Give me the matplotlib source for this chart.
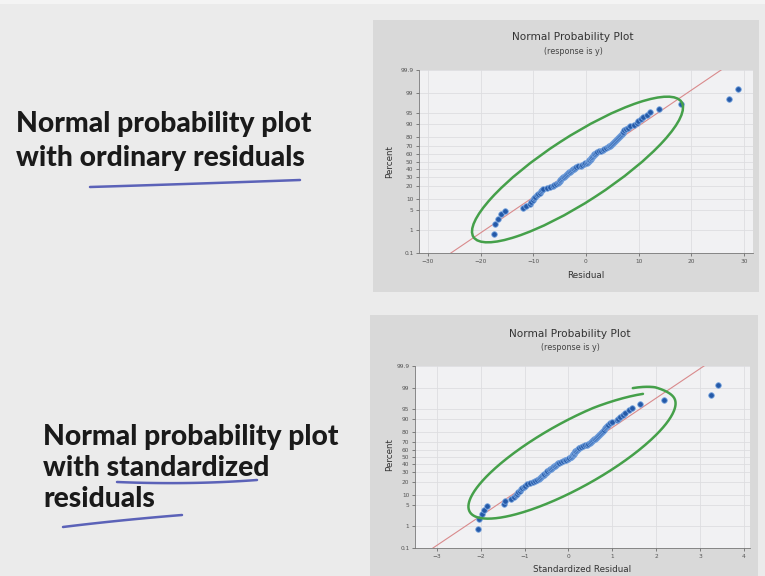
from statistics import NormalDist
import numpy as np
import matplotlib
matplotlib.use("Agg")
import matplotlib.pyplot as plt
from matplotlib.patches import Rectangle, Ellipse

# residuals (sorted) from the regression of y
ordinary = [
    -17.5, -17.2, -16.7, -16.1, -15.4, -11.9, -11.4, -10.7, -10.4, -10.0,
    -9.8, -9.6, -9.3, -9.1, -8.8, -8.6, -8.4, -8.1, -7.4, -6.9,
    -6.3, -6.0, -5.6, -5.4, -5.2, -5.0, -4.9, -4.75, -4.6, -4.4,
    -4.2, -4.0, -3.8, -3.6, -3.4, -3.2, -3.0, -2.8, -2.6, -2.4,
    -2.2, -2.05, -1.9, -1.5, -1.0, -0.7, -0.4, -0.1, 0.2, 0.4,
    0.5, 0.65, 0.8, 0.9, 1.0, 1.1, 1.2, 1.3, 1.45, 1.6,
    1.75, 1.9, 2.1, 2.4, 2.8, 3.2, 3.5, 3.8, 4.1, 4.3,
    4.5, 4.7, 4.9, 5.1, 5.3, 5.5, 5.7, 5.9, 6.1, 6.3,
    6.5, 6.65, 6.8, 6.95, 7.1, 7.3, 7.6, 7.9, 8.3, 9.2,
    9.6, 9.9, 10.4, 10.9, 11.6, 12.1, 13.9, 18.0, 27.1, 28.8,
]
standardized = [
    -2.07, -2.03, -1.98, -1.93, -1.85, -1.48, -1.44, -1.30, -1.25, -1.20,
    -1.17, -1.14, -1.11, -1.08, -1.05, -1.02, -0.99, -0.95, -0.88, -0.82,
    -0.76, -0.72, -0.67, -0.64, -0.62, -0.60, -0.58, -0.565, -0.55, -0.52,
    -0.50, -0.48, -0.45, -0.43, -0.40, -0.38, -0.36, -0.33, -0.31, -0.29,
    -0.26, -0.24, -0.22, -0.18, -0.12, -0.08, -0.05, -0.01, 0.02, 0.05,
    0.06, 0.08, 0.10, 0.11, 0.12, 0.13, 0.14, 0.16, 0.17, 0.19,
    0.21, 0.23, 0.25, 0.29, 0.33, 0.38, 0.42, 0.45, 0.49, 0.51,
    0.54, 0.56, 0.58, 0.61, 0.63, 0.65, 0.68, 0.70, 0.72, 0.75,
    0.77, 0.79, 0.81, 0.83, 0.85, 0.87, 0.91, 0.94, 0.99, 1.10,
    1.14, 1.18, 1.24, 1.30, 1.38, 1.44, 1.63, 2.17, 3.26, 3.42,
]

# reference line (mean, sd) for each plot
ordinary_fit = (0.0, 8.3)
standardized_fit = (0.0, 1.0)

pct_ticks = [0.1, 1, 5, 10, 20, 30, 40, 50, 60, 70, 80, 90, 95, 99, 99.9]
pct_labels = ["0.1", "1", "5", "10", "20", "30", "40", "50", "60", "70",
              "80", "90", "95", "99", "99.9"]
ordinary_xticks = [-30, -20, -10, 0, 10, 20, 30]
standardized_xticks = [-3, -2, -1, 0, 1, 2, 3, 4]

nd = NormalDist()
W, H = 765, 576

fig = plt.figure(figsize=(W / 100, H / 100), dpi=100)
fig.patch.set_facecolor("#ebebeb")

bg = fig.add_axes([0, 0, 1, 1], zorder=0)
bg.set_xlim(0, W)
bg.set_ylim(H, 0)
bg.axis("off")
bg.add_patch(Rectangle((0, 0), W, 4, color="#f4f4f4", lw=0))
bg.add_patch(Rectangle((373, 20), 386, 272, color="#d9d9d9", lw=0))
bg.add_patch(Rectangle((370, 315), 388, 261, color="#d9d9d9", lw=0))

bold = dict(family=["Lato", "DejaVu Sans"], weight="black", fontsize=20.3, color="#1a1a1a")
bg.text(16, 132, "Normal probability plot", va="baseline", **bold)
bg.text(16, 166, "with ordinary residuals", va="baseline", **bold)
bg.text(43, 445, "Normal probability plot", va="baseline", **bold)
bg.text(43, 476, "with standardized", va="baseline", **bold)
bg.text(43, 507, "residuals", va="baseline", **bold)


def px_box(x0, y0, x1, y1):
    return [x0 / W, 1 - y1 / H, (x1 - x0) / W, (y1 - y0) / H]


def prob_plot(box, values, fit, xticks, xlim, xlabel, title_xy, label_y):
    ax = fig.add_axes(px_box(*box), zorder=1)
    ax.set_facecolor("#f1f1f3")
    n = len(values)
    ranks = np.arange(1, n + 1)
    z = [nd.inv_cdf((r - 0.3) / (n + 0.4)) for r in ranks]
    zlim = nd.inv_cdf(0.999)

    mu, sd = fit
    ax.plot([mu - sd * zlim, mu + sd * zlim], [-zlim, zlim], color="#d98a8c", lw=0.8, zorder=2)
    ax.scatter(values, z, s=16, color="#2459a8", edgecolors="#7aa6e0", linewidths=0.6, zorder=3)

    ax.set_xlim(*xlim)
    ax.set_ylim(-zlim, zlim)
    ax.set_yticks([nd.inv_cdf(p / 100) for p in pct_ticks])
    ax.set_yticklabels(pct_labels)
    ax.set_xticks(xticks)
    ax.grid(True, color="#dddde0", lw=0.6)
    ax.tick_params(labelsize=4.2, length=2, width=0.5, colors="#555555", pad=2)
    for s in ["top", "right"]:
        ax.spines[s].set_visible(False)
    for s in ["left", "bottom"]:
        ax.spines[s].set_color("#777777")
        ax.spines[s].set_linewidth(0.6)

    tx, ty = title_xy
    bg.text(tx, ty, "Normal Probability Plot", ha="center", va="center",
            fontsize=7.6, color="#333333")
    bg.text(tx, ty + 14, "(response is y)", ha="center", va="center", fontsize=5.8, color="#444444")
    bg.text((box[0] + box[2]) / 2, box[3] + 22, xlabel, ha="center", va="center", fontsize=6.3, color="#333333")
    bg.text(390, label_y, "Percent", ha="center", va="center", rotation=90, fontsize=6.3, color="#333333")
    return ax


prob_plot((419, 70, 753, 253), ordinary, ordinary_fit, ordinary_xticks,
          (-31.7, 31.7), "Residual", (573, 37), 162)
prob_plot((415, 366, 750, 548), standardized, standardized_fit, standardized_xticks,
          (-3.5, 4.14), "Standardized Residual", (570, 334), 455)

# pen annotations on top
ov = fig.add_axes([0, 0, 1, 1], zorder=5)
ov.set_xlim(0, W)
ov.set_ylim(H, 0)
ov.axis("off")
ov.patch.set_alpha(0)

green = "#45a04a"
ov.add_patch(Ellipse((577.5, 169.5), 248, 65, angle=-33, fill=False, ec=green, lw=1.8))

# second loop, drawn by hand so it overshoots at the upper right
c = np.array([572.0, 455.0])
ang = np.deg2rad(-29)
u = np.array([np.cos(ang), np.sin(ang)])
v = np.array([-np.sin(ang), np.cos(ang)])
t0, t1 = -0.67, -2 * np.pi - 0.75
t = np.linspace(t0, t1, 400)
bs = np.interp(t, [t1, -2 * np.pi - 0.45, -2 * np.pi, -1.2, t0], [1.29, 1.33, 1.0, 1.0, 0.93])
pts = c + np.outer(117 * np.cos(t), u) + np.outer(33 * bs * np.sin(t), v)
ov.plot(pts[:, 0], pts[:, 1], color=green, lw=1.8, solid_capstyle="round")


def pen(p0, p1, p2, color="#5b62b8"):
    s = np.linspace(0, 1, 40)[:, None]
    p0, p1, p2 = map(np.array, (p0, p1, p2))
    q = (1 - s) ** 2 * p0 + 2 * (1 - s) * s * p1 + s ** 2 * p2
    ov.plot(q[:, 0], q[:, 1], color=color, lw=1.8, solid_capstyle="round")


pen((90, 187), (190, 184), (300, 180))
pen((117, 482), (190, 485), (257, 480))
pen((63, 527), (120, 520), (182, 515))

fig.savefig("out.png", dpi=100, facecolor=fig.get_facecolor())
